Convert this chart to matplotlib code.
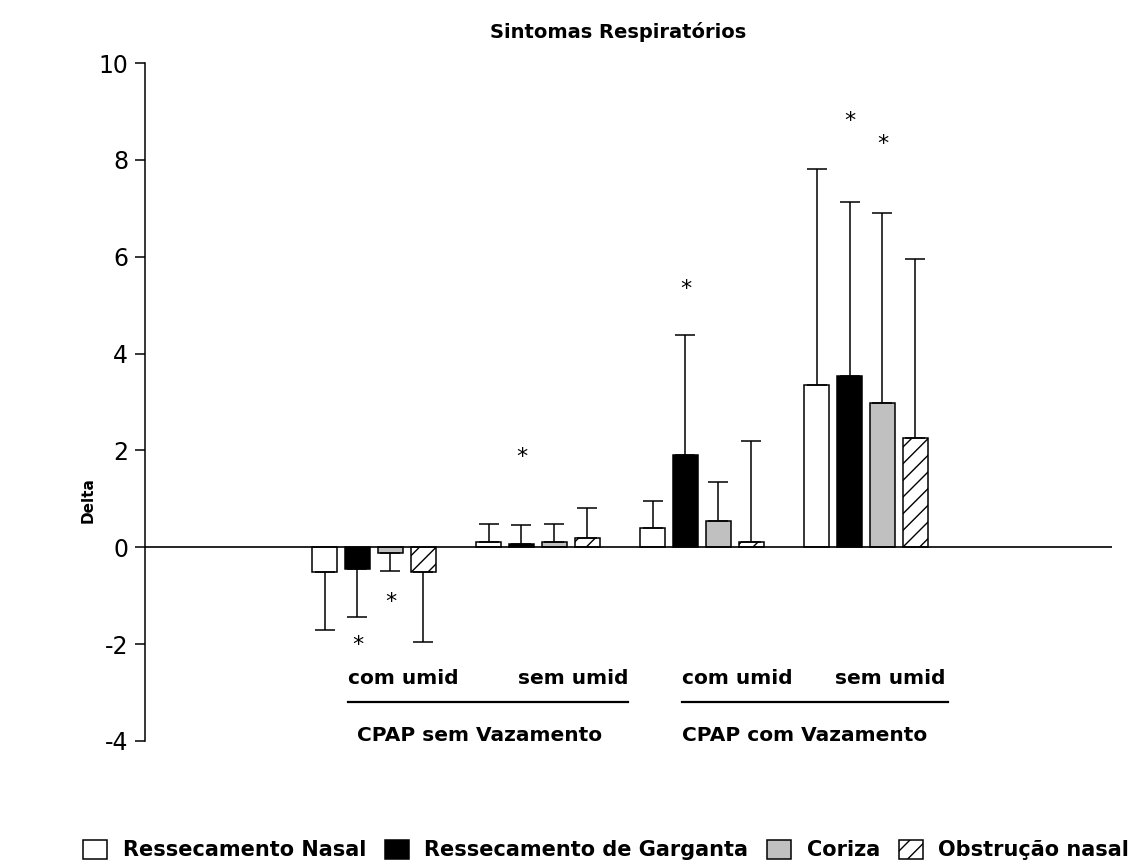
import matplotlib
matplotlib.use("Agg")
import matplotlib.pyplot as plt
from matplotlib.patches import Patch
import numpy as np

plt.rcParams['font.family'] = ['DejaVu Sans']
plt.rcParams['hatch.linewidth'] = 1.0

# ---- data ----
groups = ["com umid (sem vaz.)", "sem umid (sem vaz.)", "com umid (com vaz.)", "sem umid (com vaz.)"]
series_names = ["Ressecamento Nasal", "Ressecamento de Garganta", "Coriza", "Obstrução nasal"]
nasal = [-0.50, 0.11, 0.39, 3.35]
nasal_err = [1.21, 0.37, 0.57, 4.47]
garganta = [-0.44, 0.07, 1.91, 3.53]
garganta_err = [0.99, 0.39, 2.48, 3.60]
coriza = [-0.12, 0.11, 0.54, 2.98]
coriza_err = [0.36, 0.37, 0.81, 3.92]
obstrucao = [-0.50, 0.19, 0.10, 2.26]
obstrucao_err = [1.46, 0.62, 2.09, 3.70]

star_group = [0, 0, 1, 2, 3, 3]
star_series = [1, 2, 1, 1, 1, 2]
star_y = [-1.94, -1.05, 1.94, 5.41, 8.88, 8.39]

sub_labels = ["com umid", "sem umid", "com umid", "sem umid"]
main_labels = ["CPAP sem Vazamento", "CPAP com Vazamento"]
yticks = [-4, -2, 0, 2, 4, 6, 8, 10]

# ---- styling ----
faces = ["white", "black", "#c0c0c0", "white"]
hatches = [None, None, None, "//"]
values = [nasal, garganta, coriza, obstrucao]
errors = [nasal_err, garganta_err, coriza_err, obstrucao_err]

W, H = 1142, 861
fig = plt.figure(figsize=(W / 100, H / 100), dpi=100)
ax = fig.add_axes([145 / W, 1 - 741 / H, (1112 - 145) / W, (741 - 63) / H])

x = np.arange(len(groups))
step = 0.201
width = 0.152
offsets = (np.arange(4) - 1.5) * step

for i in range(4):
    v = np.array(values[i])
    e = np.array(errors[i])
    xs = x + offsets[i]
    ax.bar(xs, v, width=width, color=faces[i], edgecolor="black", linewidth=1.1,
           hatch=hatches[i], zorder=2)
    lower = np.where(v < 0, e, 0)
    upper = np.where(v >= 0, e, 0)
    ax.errorbar(xs, v, yerr=[lower, upper], fmt="none", ecolor="black",
                elinewidth=1.1, capsize=7.5, capthick=1.1, zorder=3)

ax.axhline(0, color="black", lw=1.2, zorder=4)

for g, s, yv in zip(star_group, star_series, star_y):
    ax.annotate("*", (x[g] + offsets[s], yv), xytext=(0, -2.5), textcoords="offset points",
                ha="center", va="center", fontsize=16)

ax.set_xlim(-1.396, 4.5)
ax.set_ylim(-4, 10)
ax.set_yticks(yticks)
ax.set_yticklabels([str(t) for t in yticks])
ax.set_xticks([])
for sp in ["top", "right", "bottom"]:
    ax.spines[sp].set_visible(False)
ax.spines["left"].set_linewidth(1.1)
ax.tick_params(axis="y", direction="out", length=7, width=1.1, labelsize=17, pad=5)

# category labels
bold = dict(fontweight="bold", fontsize=14.5, va="center")
ax.text(-0.159, -2.70, sub_labels[0], ha="left", **bold)
ax.text(1.549, -2.70, sub_labels[1], ha="right", **bold)
ax.text(1.878, -2.70, sub_labels[2], ha="left", **bold)
ax.text(3.482, -2.70, sub_labels[3], ha="right", **bold)
ax.plot([-0.159, 1.549], [-3.20, -3.20], color="black", lw=1.6, clip_on=False)
ax.plot([1.878, 3.50], [-3.20, -3.20], color="black", lw=1.6, clip_on=False)
ax.text(-0.105, -3.88, main_labels[0], ha="left", **bold)
ax.text(1.878, -3.88, main_labels[1], ha="left", **bold)

fig.text(618 / W, 1 - 32 / H, "Sintomas Respiratórios", ha="center", va="center",
         fontweight="bold", fontsize=14)
fig.text(88 / W, 1 - 500 / H, "Delta", rotation=90, ha="center", va="center",
         fontweight="bold", fontsize=11)

handles = [Patch(facecolor=faces[i], edgecolor="black", hatch=hatches[i], linewidth=1.1)
           for i in range(4)]
fig.legend(handles, series_names, loc="center left", bbox_to_anchor=(83 / W, 1 - 850 / H),
           ncol=4, frameon=False, borderpad=0, borderaxespad=0, handlelength=1.15,
           handleheight=1.05, handletextpad=0.75, columnspacing=0.9,
           prop=dict(weight="bold", size=15))

fig.savefig("out.png", dpi=100)
